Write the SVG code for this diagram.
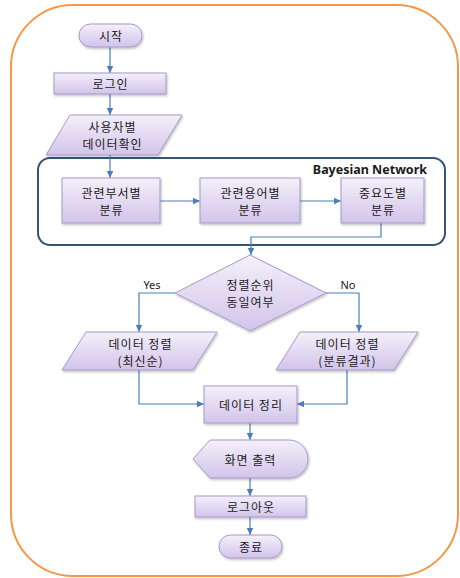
<svg xmlns="http://www.w3.org/2000/svg" width="460" height="578" viewBox="0 0 460 578">
<defs>
<linearGradient id="g" x1="0" y1="0" x2="0" y2="1">
<stop offset="0" stop-color="#f4f0fa"/>
<stop offset="1" stop-color="#d2c4ea"/>
</linearGradient>
<filter id="sh" x="-10%" y="-10%" width="130%" height="140%">
<feDropShadow dx="1" dy="1.5" stdDeviation="1" flood-color="#000" flood-opacity="0.25"/>
</filter>
<marker id="ah" markerUnits="userSpaceOnUse" markerWidth="8" markerHeight="8" refX="7" refY="4" orient="auto">
<path d="M0,0.8 L7,4 L0,7.2 Z" fill="#4a7ebb"/>
</marker>
</defs>
<style>
.n{fill:url(#g);stroke:#a698c8;stroke-width:1;filter:url(#sh)}
.t{font-family:"Noto Sans CJK KR","Noto Sans",sans-serif;font-size:12px;letter-spacing:1px;fill:#1a1a1a;text-anchor:middle;dominant-baseline:central}
.c{fill:none;stroke:#4a7ebb;stroke-width:1.2}
.a{marker-end:url(#ah)}
.l{font-family:"Noto Sans","Noto Sans CJK KR",sans-serif;font-size:11px;fill:#1a1a1a;text-anchor:middle;dominant-baseline:central}
</style>
<rect x="11" y="5" width="447" height="571" rx="62" fill="#fff" stroke="#f79646" stroke-width="2"/>
<g id="bayesian">
<rect x="38" y="158" width="407" height="87" rx="12" fill="none" stroke="#355578" stroke-width="2"/>
<text x="427" y="169" text-anchor="end" dominant-baseline="central" style="font-family:'Noto Sans','Open Sans',sans-serif;font-size:12.5px;font-weight:bold;fill:#1a1a1a">Bayesian Network</text>
</g>
<g id="connectors">
<path class="c a" d="M110,47 V73"/>
<path class="c a" d="M110,94 V115"/>
<path class="c a" d="M110,155 V178"/>
<path class="c a" d="M160,201 H200"/>
<path class="c a" d="M300,201 H341"/>
<path class="c a" d="M381,223 V237 H251 V255"/>
<path class="c a" d="M175,293 H139 V332"/>
<path class="c a" d="M326,293 H359 V332"/>
<path class="c a" d="M139,370 V404 H204"/>
<path class="c a" d="M347,370 V404 H297"/>
<path class="c a" d="M250,423 V440"/>
<path class="c a" d="M250,478 V496"/>
<path class="c a" d="M250,517 V535"/>
<text class="l" x="152" y="284">Yes</text>
<text class="l" x="348" y="284">No</text>
</g>
<g id="start">
<rect class="n" x="79" y="24" width="63" height="23" rx="11.5"/>
<text class="t" x="111" y="35.5">시작</text>
</g>
<g id="login">
<rect class="n" x="54" y="73" width="112" height="21"/>
<text class="t" x="110.5" y="83.5">로그인</text>
</g>
<g id="userdata">
<polygon class="n" points="70,115 182,115 158,155 46,155"/>
<text class="t" x="112.5" y="126.5">사용자별</text>
<text class="t" x="112.5" y="143.5">데이터확인</text>
</g>
<g id="dept">
<rect class="n" x="62" y="178" width="98" height="45"/>
<text class="t" x="111.5" y="192">관련부서별</text>
<text class="t" x="111.5" y="209">분류</text>
</g>
<g id="term">
<rect class="n" x="200" y="178" width="100" height="45"/>
<text class="t" x="250.5" y="192">관련용어별</text>
<text class="t" x="250.5" y="209">분류</text>
</g>
<g id="importance">
<rect class="n" x="341" y="178" width="83" height="45"/>
<text class="t" x="383" y="192">중요도별</text>
<text class="t" x="383" y="209">분류</text>
</g>
<g id="decision">
<polygon class="n" points="250,255 326,293 250,331 175,293"/>
<text class="t" x="250.5" y="284.5">정렬순위</text>
<text class="t" x="250.5" y="301.5">동일여부</text>
</g>
<g id="sortlatest">
<polygon class="n" points="86,332 217,332 193,370 62,370"/>
<text class="t" x="140.5" y="343">데이터 정렬</text>
<text class="t" x="140.5" y="360">(최신순)</text>
</g>
<g id="sortresult">
<polygon class="n" points="300,332 418,332 394,370 276,370"/>
<text class="t" x="347.5" y="343">데이터 정렬</text>
<text class="t" x="347.5" y="360">(분류결과)</text>
</g>
<g id="organize">
<rect class="n" x="204" y="386" width="93" height="37"/>
<text class="t" x="251" y="404.5">데이터 정리</text>
</g>
<g id="display">
<path class="n" d="M193,459 L210,440 L289,440 A19,19 0 0 1 289,478 L210,478 Z"/>
<text class="t" x="250.5" y="459">화면 출력</text>
</g>
<g id="logout">
<rect class="n" x="195" y="496" width="111" height="21"/>
<text class="t" x="251" y="506.5">로그아웃</text>
</g>
<g id="end">
<rect class="n" x="219" y="535" width="63" height="23" rx="11.5"/>
<text class="t" x="251" y="546.5">종료</text>
</g>
</svg>
